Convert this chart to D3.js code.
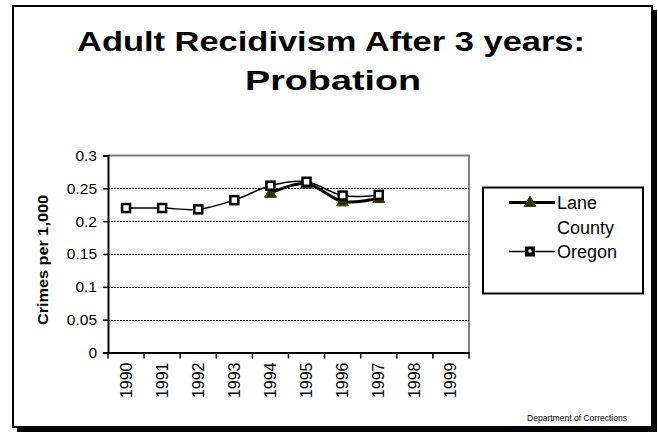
<!DOCTYPE html>
<html>
<head>
<meta charset="utf-8">
<script src="https://cdn.jsdelivr.net/npm/d3@7"></script>
<style>
  html, body { margin: 0; padding: 0; background: #fff; }
  svg { display: block; font-family: "Liberation Sans", Arial, sans-serif; }
</style>
</head>
<body>
<svg id="chart" width="658" height="433"></svg>
<script>
const years = ["1990","1991","1992","1993","1994","1995","1996","1997","1998","1999"];
const oregon = [0.220, 0.220, 0.218, 0.232, 0.254, 0.260, 0.239, 0.240, null, null];
const laneCounty = [null, null, null, null, 0.243, 0.257, 0.230, 0.235, null, null];
const yTicks = [0, 0.05, 0.1, 0.15, 0.2, 0.25, 0.3];
const seriesNames = ["Lane County", "Oregon"];
const titleLines = ["Adult Recidivism After 3 years:", "Probation"];
const yAxisTitle = "Crimes per 1,000";
const footer = "Department of Corrections";

(function () {
const svg = d3.select("#chart");

// frame with shadow
svg.append("rect").attr("x", 17).attr("y", 10).attr("width", 640).attr("height", 422).attr("fill", "#000");
svg.append("rect").attr("x", 13).attr("y", 6).attr("width", 639).attr("height", 421)
  .attr("fill", "#fff").attr("stroke", "#000").attr("stroke-width", 2);

// titles
svg.append("text").attr("x", 331).attr("y", 51).attr("text-anchor", "middle")
  .attr("font-size", 28).attr("font-weight", "bold")
  .attr("textLength", 508).attr("lengthAdjust", "spacingAndGlyphs")
  .text(titleLines[0]);
svg.append("text").attr("x", 333).attr("y", 90).attr("text-anchor", "middle")
  .attr("font-size", 28).attr("font-weight", "bold")
  .attr("textLength", 176).attr("lengthAdjust", "spacingAndGlyphs")
  .text(titleLines[1]);

const pl = 108, pr = 469, pt = 155.5, pb = 352.5;
const x = d3.scaleBand().domain(years).range([pl, pr]).padding(0);
const y = d3.scaleLinear().domain([0, 0.3]).range([pb, pt]);

// plot border (gray top/right)
svg.append("path").attr("d", `M${pl},${pt}H${pr}V${pb}`)
  .attr("fill", "none").attr("stroke", "#808080").attr("stroke-width", 2);

// gridlines
svg.append("g").selectAll("line").data(yTicks.filter(t => t > 0 && t < 0.3)).join("line")
  .attr("x1", pl).attr("x2", pr)
  .attr("y1", d => Math.round(y(d)) + 0.5).attr("y2", d => Math.round(y(d)) + 0.5)
  .attr("stroke", "#000").attr("stroke-width", 1).attr("stroke-dasharray", "2,1");

// y axis
const yAxis = d3.axisLeft(y).tickValues(yTicks).tickSize(5).tickPadding(6)
  .tickFormat(d => String(+d.toFixed(2)));
const gy = svg.append("g").attr("transform", `translate(${pl},0)`).call(yAxis);
gy.select(".domain").attr("stroke", "#000").attr("stroke-width", 2);
gy.selectAll(".tick line").attr("stroke", "#000").attr("stroke-width", 1.5);
gy.selectAll(".tick text").attr("font-size", 15.5).attr("fill", "#000")
  .attr("font-family", "Liberation Sans, Arial, sans-serif");

// x axis
const xAxis = d3.axisBottom(x).tickSize(0).tickPadding(0);
const gx = svg.append("g").attr("transform", `translate(0,${pb})`).call(xAxis);
gx.select(".domain").attr("stroke", "#000").attr("stroke-width", 2);
gx.selectAll(".tick text").remove();
const bounds = years.map(d => x(d)).concat([x(years[years.length - 1]) + x.bandwidth()]);
svg.append("g").selectAll("line").data(bounds).join("line")
  .attr("x1", d => d).attr("x2", d => d).attr("y1", pb).attr("y2", pb + 6)
  .attr("stroke", "#000").attr("stroke-width", 1.5);
svg.append("g").selectAll("text").data(years).join("text")
  .attr("transform", d => `translate(${x(d) + x.bandwidth() / 2 + 5.5},${pb + 10}) rotate(-90)`)
  .attr("text-anchor", "end").attr("font-size", 16).text(d => d);

// y axis title
svg.append("text").attr("transform", `translate(48,260) rotate(-90)`)
  .attr("text-anchor", "middle").attr("font-size", 15).attr("font-weight", "bold")
  .attr("textLength", 130).attr("lengthAdjust", "spacingAndGlyphs")
  .text(yAxisTitle);

// lines
const line = d3.line()
  .defined(d => d.v != null)
  .x(d => x(d.k) + x.bandwidth() / 2)
  .y(d => y(d.v))
  .curve(d3.curveCardinal.tension(0));

const laneData = years.map((k, i) => ({ k, v: laneCounty[i] }));
const oreData = years.map((k, i) => ({ k, v: oregon[i] }));

svg.append("path").datum(laneData).attr("d", line)
  .attr("fill", "none").attr("stroke", "#000").attr("stroke-width", 3);
svg.append("g").selectAll("path").data(laneData.filter(d => d.v != null)).join("path")
  .attr("transform", d => `translate(${x(d.k) + x.bandwidth() / 2},${y(d.v) + 1})`)
  .attr("d", d3.symbol(d3.symbolTriangle, 60))
  .attr("fill", "#333300").attr("stroke", "#333300").attr("stroke-width", 1);

svg.append("path").datum(oreData).attr("d", line)
  .attr("fill", "none").attr("stroke", "#000").attr("stroke-width", 1.5);
svg.append("g").selectAll("rect").data(oreData.filter(d => d.v != null)).join("rect")
  .attr("x", d => x(d.k) + x.bandwidth() / 2 - 4)
  .attr("y", d => y(d.v) - 4)
  .attr("width", 8).attr("height", 8)
  .attr("fill", "#fff").attr("stroke", "#000").attr("stroke-width", 2.5);

// legend
svg.append("rect").attr("x", 483).attr("y", 187.5).attr("width", 160).attr("height", 106)
  .attr("fill", "#fff").attr("stroke", "#000").attr("stroke-width", 2);
svg.append("line").attr("x1", 509).attr("x2", 555).attr("y1", 202.5).attr("y2", 202.5)
  .attr("stroke", "#000").attr("stroke-width", 3);
svg.append("path").attr("transform", "translate(530,203)")
  .attr("d", d3.symbol(d3.symbolTriangle, 60))
  .attr("fill", "#333300").attr("stroke", "#333300");
svg.append("text").attr("x", 557).attr("y", 208.5).attr("font-size", 18).text("Lane");
svg.append("text").attr("x", 557).attr("y", 234).attr("font-size", 18).text("County");
svg.append("line").attr("x1", 509).attr("x2", 555).attr("y1", 251.5).attr("y2", 251.5)
  .attr("stroke", "#000").attr("stroke-width", 1.5);
svg.append("rect").attr("x", 526).attr("y", 247.5).attr("width", 8).attr("height", 8)
  .attr("fill", "#000").attr("stroke", "#000").attr("stroke-width", 2);
svg.append("rect").attr("x", 528.5).attr("y", 249.5).attr("width", 3).attr("height", 3)
  .attr("fill", "#fff");
svg.append("text").attr("x", 557).attr("y", 258).attr("font-size", 18).text(seriesNames[1]);

// footer
svg.append("text").attr("x", 527).attr("y", 421).attr("font-size", 9.5)
  .attr("textLength", 100).attr("lengthAdjust", "spacingAndGlyphs").text(footer);
})();
</script>
</body>
</html>
